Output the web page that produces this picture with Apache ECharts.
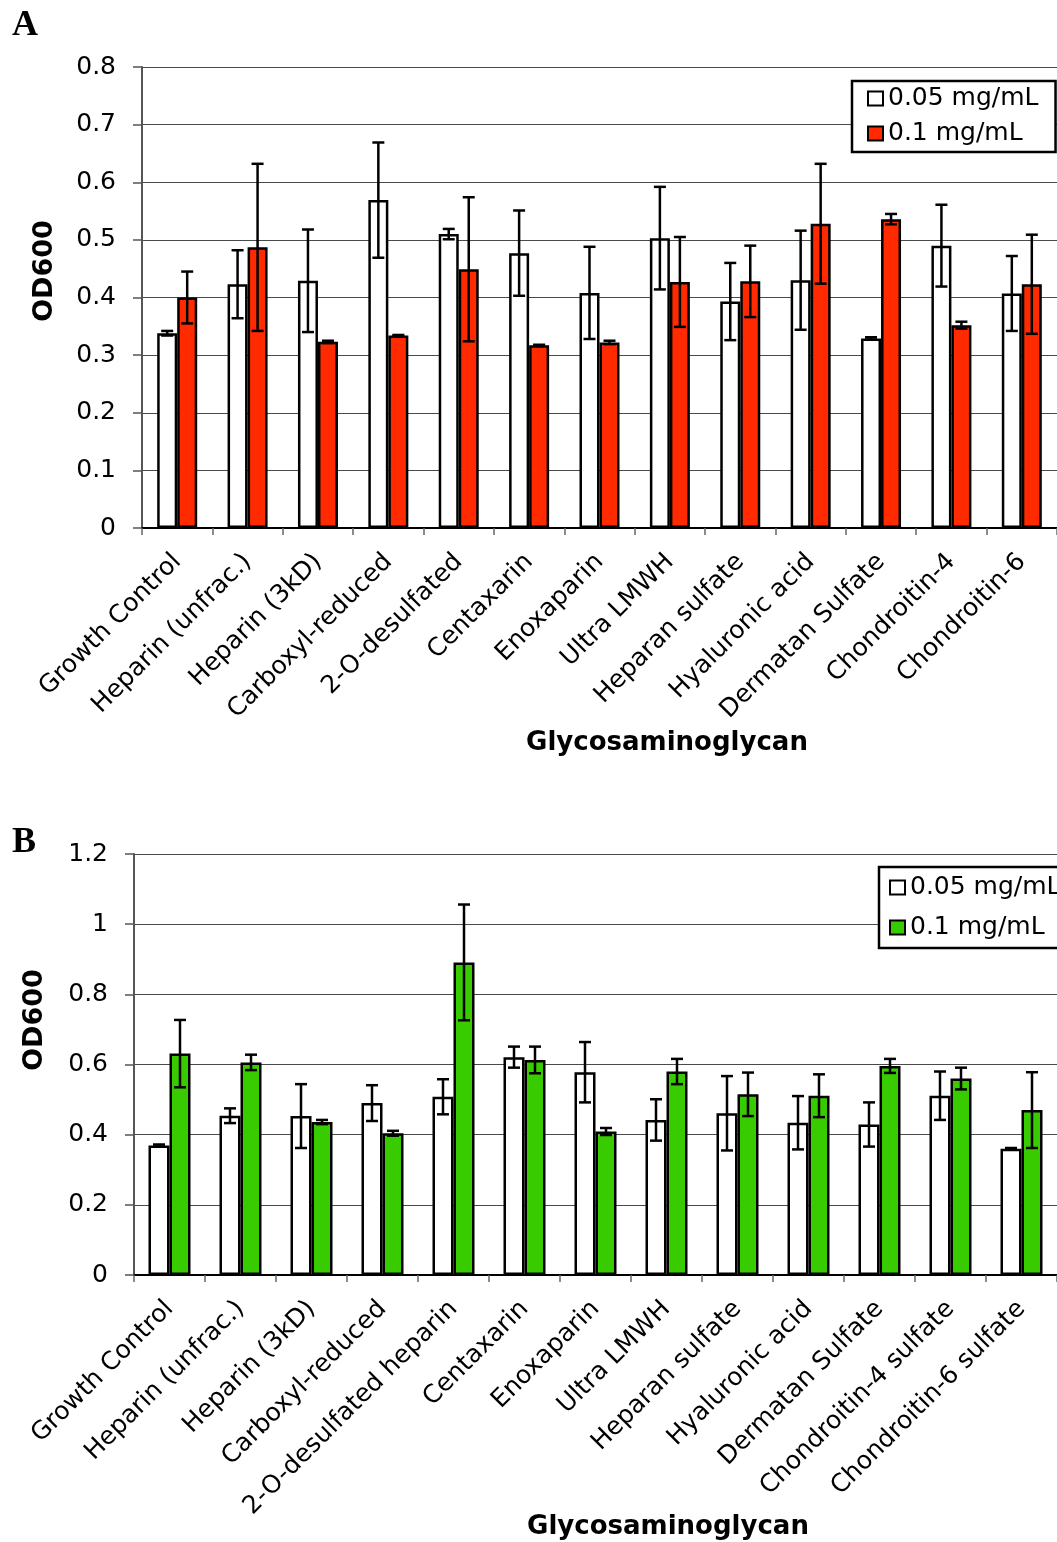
<!DOCTYPE html>
<html>
<head>
<meta charset="utf-8">
<script src="https://cdn.jsdelivr.net/npm/echarts@6/dist/echarts.min.js"></script>
<style>
html,body{margin:0;padding:0;background:#fff;}
#c{width:1057px;height:1542px;}
</style>
</head>
<body>
<div id="c"></div>
<script>
// ---------- Data ----------
const categoriesA = ['Growth Control','Heparin (unfrac.)','Heparin (3kD)','Carboxyl-reduced','2-O-desulfated','Centaxarin','Enoxaparin','Ultra LMWH','Heparan sulfate','Hyaluronic acid','Dermatan Sulfate','Chondroitin-4','Chondroitin-6'];
const lowDoseA  = [0.338,0.423,0.429,0.569,0.510,0.477,0.408,0.503,0.393,0.430,0.329,0.490,0.407];
const lowErrA   = [0.004,0.059,0.089,0.100,0.009,0.074,0.080,0.089,0.067,0.086,0.002,0.071,0.065];
const highDoseA = [0.400,0.487,0.323,0.334,0.449,0.317,0.322,0.427,0.428,0.528,0.536,0.352,0.423];
const highErrA  = [0.045,0.145,0.002,0.001,0.125,0.001,0.003,0.078,0.062,0.104,0.009,0.006,0.086];

const categoriesB = ['Growth Control','Heparin (unfrac.)','Heparin (3kD)','Carboxyl-reduced','2-O-desulfated heparin','Centaxarin','Enoxaparin','Ultra LMWH','Heparan sulfate','Hyaluronic acid','Dermatan Sulfate','Chondroitin-4 sulfate','Chondroitin-6 sulfate'];
const lowDoseB  = [0.369,0.454,0.453,0.490,0.508,0.621,0.578,0.442,0.461,0.434,0.429,0.511,0.360];
const lowErrB   = [0.003,0.021,0.091,0.051,0.050,0.030,0.086,0.059,0.106,0.076,0.063,0.069,0.002];
const highDoseB = [0.631,0.606,0.436,0.404,0.891,0.613,0.409,0.580,0.515,0.511,0.596,0.560,0.470];
const highErrB  = [0.096,0.022,0.006,0.007,0.165,0.038,0.010,0.036,0.062,0.061,0.020,0.031,0.108];

const seriesNames = ['0.05 mg/mL','0.1 mg/mL'];
const yTicksA = {min:0, max:0.8, interval:0.1};
const yTicksB = {min:0, max:1.2, interval:0.2};

// ---------- Styling ----------
const FONT = 'DejaVu Sans';
const RED = '#ff2a00';
const GREEN = '#38cc00';

function errData(vals, errs){
  return vals.map((v,i)=>[i, v-errs[i], v+errs[i]]);
}
function errSeries(gridIdx, vals, errs, offset){
  return {
    type:'custom', xAxisIndex:gridIdx, yAxisIndex:gridIdx, z:5, silent:true,
    data: errData(vals, errs),
    encode:{x:0, y:[1,2]},
    renderItem:function(params, api){
      const i = api.value(0);
      const lo = api.coord([i, api.value(1)]);
      const hi = api.coord([i, api.value(2)]);
      const x = lo[0] + offset;
      const cap = 6;
      const st = {stroke:'#000', lineWidth:2.5};
      return {type:'group', children:[
        {type:'line', shape:{x1:x,y1:lo[1],x2:x,y2:hi[1]}, style:st},
        {type:'line', shape:{x1:x-cap,y1:lo[1],x2:x+cap,y2:lo[1]}, style:st},
        {type:'line', shape:{x1:x-cap,y1:hi[1],x2:x+cap,y2:hi[1]}, style:st}
      ]};
    }
  };
}
function xAxisCfg(gridIdx, cats){
  return {
    type:'category', gridIndex:gridIdx, data:cats,
    axisLine:{lineStyle:{color:'#000', width:2}},
    axisTick:{show:true, interval:0, length:7, lineStyle:{color:'#666', width:1.5}},
    axisLabel:{interval:0, rotate:45, fontSize:25, fontFamily:FONT, color:'#000', margin:30}
  };
}
function yAxisCfg(gridIdx, t){
  return {
    type:'value', gridIndex:gridIdx, min:t.min, max:t.max, interval:t.interval,
    axisLine:{show:true, lineStyle:{color:'#555', width:2}},
    axisTick:{show:true, length:9, lineStyle:{color:'#555', width:1.5}},
    axisLabel:{fontSize:25, fontFamily:FONT, color:'#000', margin:26},
    splitLine:{show:true, lineStyle:{color:'#4a4a4a', width:1.2}}
  };
}
function barSeries(name, gridIdx, vals, color, bw){
  return {
    name:name, type:'bar', xAxisIndex:gridIdx, yAxisIndex:gridIdx,
    data:vals, barWidth:bw, barGap:'0%', z:3,
    itemStyle:{color:color, borderColor:'#000', borderWidth:2.5}
  };
}
function legendCfg(names, left, top, padding, gap){
  return {
    orient:'vertical', left:left, top:top, data:names, padding:padding, itemGap:gap,
    itemWidth:15, itemHeight:14, icon:'rect',
    borderColor:'#000', borderWidth:2.5, backgroundColor:'#fff', borderRadius:0,
    selectedMode:false,
    formatter:function(n){return n.replace(/ B$/,'');},
    textStyle:{fontSize:25, fontFamily:FONT, color:'#000', lineHeight:25}
  };
}

const chart = echarts.init(document.getElementById('c'), null, {renderer:'canvas'});
chart.setOption({
  animation:false,
  backgroundColor:'#fff',
  grid:[
    {left:142, top:67, width:923, height:461},
    {left:134, top:854, width:935, height:421}
  ],
  xAxis:[xAxisCfg(0, categoriesA), xAxisCfg(1, categoriesB)],
  yAxis:[yAxisCfg(0, yTicksA), yAxisCfg(1, yTicksB)],
  legend:[
    legendCfg([seriesNames[0], seriesNames[1]], 852, 81, [5,17,6,15], 10),
    legendCfg([seriesNames[0]+' B', seriesNames[1]+' B'], 879, 867, [8,16,8,10], 15)
  ],
  series:[
    barSeries(seriesNames[0], 0, lowDoseA, '#fff', 20),
    barSeries(seriesNames[1], 0, highDoseA, RED, 20),
    errSeries(0, lowDoseA, lowErrA, -10),
    errSeries(0, highDoseA, highErrA, 10),
    barSeries(seriesNames[0]+' B', 1, lowDoseB, '#fff', 21),
    barSeries(seriesNames[1]+' B', 1, highDoseB, GREEN, 21),
    errSeries(1, lowDoseB, lowErrB, -10.5),
    errSeries(1, highDoseB, highErrB, 10.5)
  ],
  graphic:[
    {type:'text', left:12, top:8, style:{text:'A', font:'bold 36px "Liberation Serif"', fill:'#000'}},
    {type:'text', left:12, top:825, style:{text:'B', font:'bold 36px "Liberation Serif"', fill:'#000'}},
    {type:'text', x:45, y:271, rotation:Math.PI/2, style:{text:'OD600', font:'bold 27px "DejaVu Sans"', fill:'#000', align:'center', verticalAlign:'middle'}},
    {type:'text', x:35, y:1020, rotation:Math.PI/2, style:{text:'OD600', font:'bold 27px "DejaVu Sans"', fill:'#000', align:'center', verticalAlign:'middle'}},
    {type:'text', x:667, y:743, style:{text:'Glycosaminoglycan', font:'bold 26px "DejaVu Sans"', fill:'#000', align:'center', verticalAlign:'middle'}},
    {type:'text', x:668, y:1527, style:{text:'Glycosaminoglycan', font:'bold 26px "DejaVu Sans"', fill:'#000', align:'center', verticalAlign:'middle'}}
  ]
});
</script>
</body>
</html>
